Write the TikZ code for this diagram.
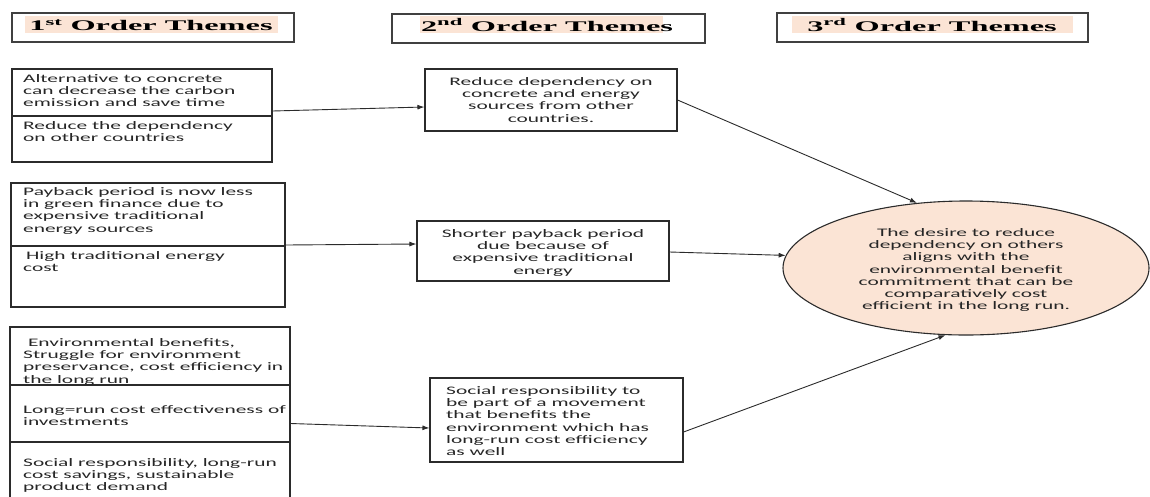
\documentclass[tikz,border=0pt]{standalone}
\usepackage{fontspec}
\usetikzlibrary{arrows.meta,shapes.geometric}
\newfontfamily\bodyf[FakeStretch=1.86]{Carlito}
\newfontfamily\headf[FakeStretch=2.2]{Liberation Serif}
\definecolor{peach}{HTML}{FBE4D5}
\definecolor{edge}{HTML}{2B2B2B}
\begin{document}
\begin{tikzpicture}[x=1pt,y=-1pt,
  box/.style={draw=edge, line width=1.1pt, rectangle, inner sep=0pt},
  hbox/.style={draw=black!75, line width=1.5pt, rectangle, inner sep=0pt},
  hl/.style={fill=peach, draw=none, rectangle, inner sep=0pt, minimum height=17pt},
  head/.style={inner sep=0pt, font=\headf\bfseries\fontsize{14.7}{17}\selectfont},
  txt/.style={inner sep=0pt, font=\bodyf\fontsize{11.5}{12.3}\selectfont, execute at begin node=\strut, text=black!85},
  arr/.style={-{Latex[length=7pt,width=5pt]}, line width=0.9pt, draw=edge}]
\useasboundingbox (0,0) rectangle (1150,496);

% headers
\node[hbox, minimum width=282pt, minimum height=29pt] (H1) at (153,27.5) {};
\node[hl, minimum width=253pt] (H1f) at (151.5,24.5) {};
\node[head] (H1t) at (151,25) {1\textsuperscript{st} Order Themes};
\node[hbox, minimum width=313pt, minimum height=29pt] (H2) at (548.5,28.5) {};
\node[hl, minimum width=243pt] (H2f) at (541.5,24.5) {};
\node[head] (H2t) at (547,25) {2\textsuperscript{nd} Order Themes};
\node[hbox, minimum width=311pt, minimum height=29pt] (H3) at (932.5,27.5) {};
\node[hl, minimum width=281pt] (H3f) at (932.5,24.5) {};
\node[head] (H3t) at (932,25) {3\textsuperscript{rd} Order Themes};

% left boxes
\node[box, minimum width=260pt, minimum height=93pt] (L1) at (142,115.5) {};
\draw[edge, line width=1.1pt] (L1.west |- 0,116) -- (L1.east |- 0,116);
\node[txt, anchor=north west, align=left] (L1a) at (23,74) {Alternative to concrete\\can decrease the carbon\\emission and save time};
\node[txt, anchor=north west, align=left] (L1b) at (23,121) {Reduce the dependency\\on other countries};

\node[box, minimum width=274pt, minimum height=124pt] (L2) at (148,245) {};
\draw[edge, line width=1.1pt] (L2.west |- 0,246) -- (L2.east |- 0,246);
\node[txt, anchor=north west, align=left] (L2a) at (23,187) {Payback period is now less\\in green finance due to\\expensive traditional\\energy sources};
\node[txt, anchor=north west, align=left] (L2b) at (21,251) {\ High traditional energy\\\hspace*{2pt}cost};

\node[box, minimum width=280pt, minimum height=173pt] (L3) at (150,413.5) {};
\draw[edge, line width=1.1pt] (L3.west |- 0,385) -- (L3.east |- 0,385);
\draw[edge, line width=1.1pt] (L3.west |- 0,442) -- (L3.east |- 0,442);
\node[txt, anchor=north west, align=left] (L3a) at (23,338) {\ Environmental benefits,\\Struggle for environment\\preservance, cost efficiency in\\the long run};
\node[txt, anchor=north west, align=left] (L3b) at (23,405) {Long=run cost effectiveness of\\investments};
\node[txt, anchor=north west, align=left] (L3c) at (23,458) {Social responsibility, long-run\\cost savings, sustainable\\product demand};

% middle boxes
\node[box, minimum width=252pt, minimum height=62pt] (M1) at (551,100) {};
\node[txt, anchor=north, align=center] (M1t) at (551,77) {Reduce dependency on\\concrete and energy\\sources from other\\countries.};
\node[box, minimum width=252pt, minimum height=60pt] (M2) at (543,251) {};
\node[txt, anchor=north, align=center] (M2t) at (543,229) {Shorter payback period\\due because of\\expensive traditional\\energy};
\node[box, minimum width=253pt, minimum height=84pt] (M3) at (556.5,420) {};
\node[txt, anchor=north west, align=left] (M3t) at (446,386) {Social responsibility to\\be part of a movement\\that benefits the\\environment which has\\long-run cost efficiency\\as well};

% ellipse
\node[ellipse, draw=edge, line width=1.1pt, fill=peach, minimum width=366pt, minimum height=134pt, inner sep=0pt] (E) at (966,268) {};
\node[txt, anchor=north, align=center] (Et) at (966,228) {The desire to reduce\\dependency on others\\aligns with the\\environmental benefit\\commitment that can be\\comparatively cost\\efficient in the long run.};

% connectors
\draw[arr] ([yshift=4.5pt]L1.east) -- ([yshift=-7pt]M1.west);
\draw[arr] (L2.east) -- ([yshift=7pt]M2.west);
\draw[arr] ([yshift=-10pt]L3.east) -- ([yshift=-8pt]M3.west);
\draw[arr] (M1.east) -- (E.127);
\draw[arr] ([yshift=-1pt]M2.east) -- (E.176);
\draw[arr] ([yshift=-12pt]M3.east) -- (E.253);
\end{tikzpicture}
\end{document}
